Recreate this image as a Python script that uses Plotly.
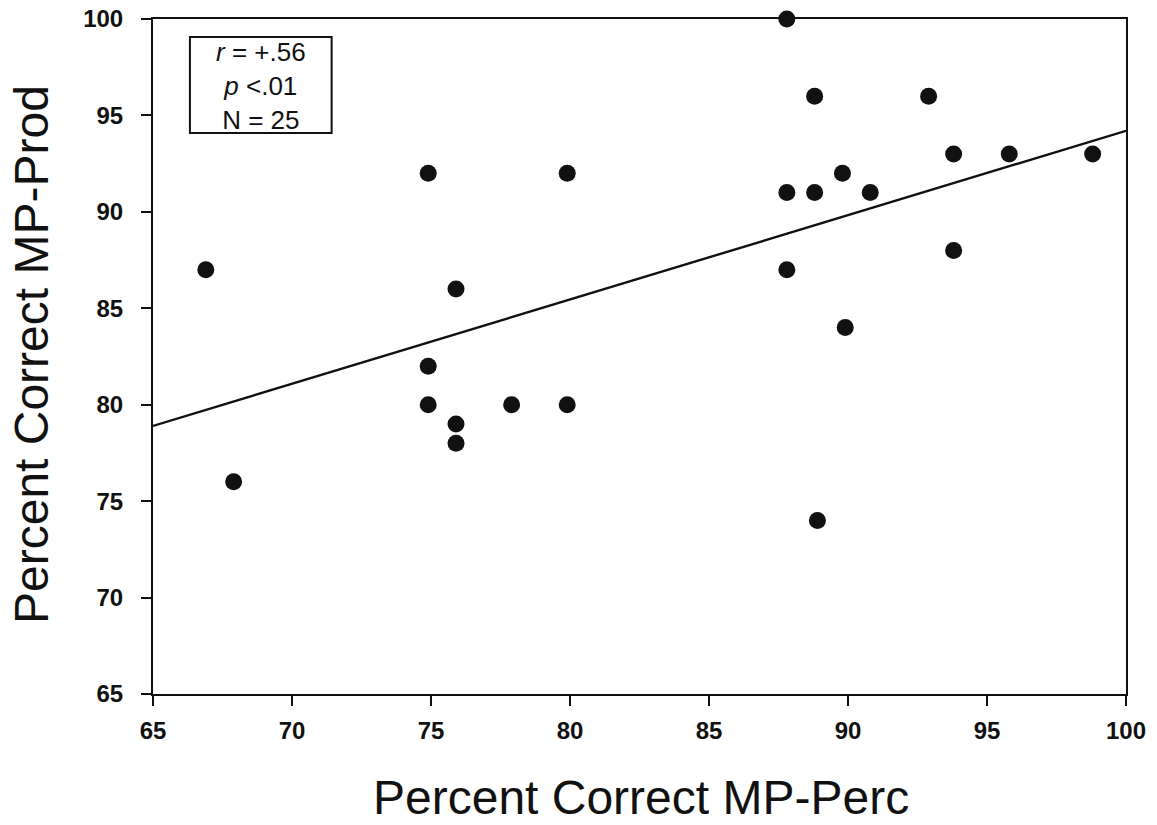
import plotly.graph_objects as go

# Data
perc = [66.9, 67.9, 74.9, 74.9, 74.9, 75.9, 75.9, 75.9, 77.9, 79.9, 79.9,
        87.8, 87.8, 87.8, 88.8, 88.8, 88.9, 89.8, 89.9, 90.8,
        92.9, 93.8, 93.8, 95.8, 98.8]
prod = [87, 76, 92, 82, 80, 86, 79, 78, 80, 92, 80,
        100, 91, 87, 96, 91, 74, 92, 84, 91,
        96, 93, 88, 93, 93]
fit_x = [65, 100]
fit_y = [78.9, 94.2]
tick_vals = [65, 70, 75, 80, 85, 90, 95, 100]
stats_lines = ["<i>r</i> = +.56", "<i>p</i> <.01", "N = 25"]

FONT = "Liberation Sans, Arial, sans-serif"

fig = go.Figure()
fig.add_trace(go.Scatter(x=fit_x, y=fit_y, mode="lines",
                         line=dict(color="#111111", width=2.4),
                         hoverinfo="skip", showlegend=False))
fig.add_trace(go.Scatter(x=perc, y=prod, mode="markers",
                         marker=dict(size=17, color="#111111"),
                         cliponaxis=False, showlegend=False))

axis_common = dict(range=[65, 100], tickvals=tick_vals, showgrid=False,
                   zeroline=False, showline=True, linecolor="#111111",
                   linewidth=2, mirror=True, ticks="outside", ticklen=10,
                   tickwidth=2, tickcolor="#111111", automargin=False,
                   tickfont=dict(family=FONT, size=24, color="#111111",
                                 weight="bold"))
fig.update_xaxes(**axis_common, ticklabelstandoff=4)
fig.update_yaxes(**axis_common, ticklabelstandoff=13)

# stats box
fig.add_shape(type="rect", xref="paper", yref="paper",
              x0=(190 - 153) / 975, x1=(332 - 153) / 975,
              y0=(694 - 133) / 675, y1=(694 - 37) / 675,
              line=dict(color="#111111", width=2), fillcolor="white", layer="above")
fig.add_annotation(xref="paper", yref="paper",
                   x=(261 - 153) / 973, y=(694 - 86) / 675,
                   xanchor="center", yanchor="middle", showarrow=False,
                   text="<br>".join(stats_lines), align="center",
                   font=dict(family=FONT, size=26, color="#111111"))

# axis titles
fig.add_annotation(xref="paper", yref="paper",
                   x=(641 - 153) / 973, y=(694 - 797) / 675, xanchor="center",
                   yanchor="middle", showarrow=False,
                   text="Percent Correct MP-Perc",
                   font=dict(family=FONT, size=48, color="#111111"))
fig.add_annotation(xref="paper", yref="paper",
                   x=(31 - 153) / 973, y=(694 - 355) / 675, xanchor="center",
                   yanchor="middle", textangle=-90,
                   showarrow=False, text="Percent Correct MP-Prod",
                   font=dict(family=FONT, size=48, color="#111111"))

fig.update_layout(width=1157, height=825,
                  margin=dict(l=153, r=31, t=19, b=131, autoexpand=False),
                  plot_bgcolor="white", paper_bgcolor="white",
                  showlegend=False)

fig.write_html("out.html", config={"displayModeBar": False},
               post_script="document.body.style.margin='0px';document.body.style.overflow='hidden';")
